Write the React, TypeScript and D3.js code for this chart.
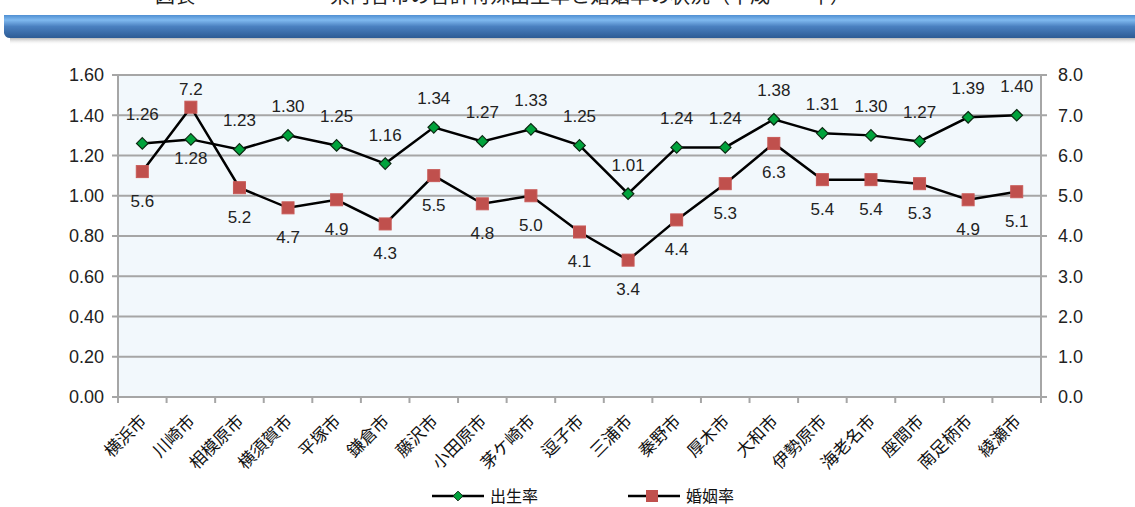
import React from "react";
import * as d3 from "d3";

const cities = ["横浜市", "川崎市", "相模原市", "横須賀市", "平塚市", "鎌倉市", "藤沢市", "小田原市", "茅ケ崎市", "逗子市", "三浦市", "秦野市", "厚木市", "大和市", "伊勢原市", "海老名市", "座間市", "南足柄市", "綾瀬市"];
const birthRate = [1.26, 1.28, 1.23, 1.30, 1.25, 1.16, 1.34, 1.27, 1.33, 1.25, 1.01, 1.24, 1.24, 1.38, 1.31, 1.30, 1.27, 1.39, 1.40];
const marriageRate = [5.6, 7.2, 5.2, 4.7, 4.9, 4.3, 5.5, 4.8, 5.0, 4.1, 3.4, 4.4, 5.3, 6.3, 5.4, 5.4, 5.3, 4.9, 5.1];
const leftTicks = [0, 0.2, 0.4, 0.6, 0.8, 1.0, 1.2, 1.4, 1.6];
const rightTicks = [0, 1, 2, 3, 4, 5, 6, 7, 8];

const W = 1135, H = 507;
const m = { left: 118, right: 1041, top: 75, bottom: 397 };
const num = "'Liberation Sans', Arial, sans-serif";
const cjk = "'Noto Sans CJK JP', sans-serif";

export default function App() {
  const x = d3.scaleBand().domain(cities).range([m.left, m.right]);
  const yL = d3.scaleLinear().domain([0, 1.6]).range([m.bottom, m.top]);
  const yR = d3.scaleLinear().domain([0, 8]).range([m.bottom, m.top]);
  const cx = (c: string) => (x(c) as number) + x.bandwidth() / 2;

  const birthLine = d3.line<number>().x((_, i) => cx(cities[i])).y(d => yL(d));
  const marrLine = d3.line<number>().x((_, i) => cx(cities[i])).y(d => yR(d));
  const diamond = d3.symbol().type(d3.symbolDiamond2).size(85)();

  return (
    <svg width={W} height={H} style={{ position: "absolute", left: 0, top: 0 }}>
      <defs>
        <linearGradient id="band" x1="0" y1="0" x2="0" y2="1">
          <stop offset="0" stopColor="#4f8fd2" />
          <stop offset="0.22" stopColor="#7fb9ef" />
          <stop offset="0.5" stopColor="#4a80c0" />
          <stop offset="1" stopColor="#2d5b94" />
        </linearGradient>
        <linearGradient id="shadow" x1="0" y1="0" x2="0" y2="1">
          <stop offset="0" stopColor="#9a9a9a" stopOpacity="0.7" />
          <stop offset="1" stopColor="#ffffff" stopOpacity="0" />
        </linearGradient>
      </defs>
      <rect width={W} height={H} fill="#fff" />

      {/* title, mostly cut off at the top as in the source */}
      <text x={155} y={3} fontFamily={cjk} fontSize={20} fill="#222">図表</text>
      <text x={330} y={3} fontFamily={cjk} fontSize={20} fill="#222">県内各市の合計特殊出生率と婚姻率の状況（平成　　年）</text>

      {/* banner */}
      <rect x={10} y={38} width={W - 10} height={7} fill="url(#shadow)" />
      <path d={`M4,15 L${W},15 L${W},38 L10,38 Q5,38 4,33 Z`} fill="url(#band)" />

      {/* plot area */}
      <rect x={m.left} y={m.top} width={m.right - m.left} height={m.bottom - m.top} fill="#f2f8fc" />
      {leftTicks.map(t => (
        <g key={t}>
          <line x1={m.left - 6} x2={m.right + 6} y1={yL(t)} y2={yL(t)} stroke="#a6a6a6" strokeWidth={2} />
          <text x={104} y={yL(t)} dy="0.35em" textAnchor="end" fontFamily={num} fontSize={18} fill="#222">{t.toFixed(2)}</text>
        </g>
      ))}
      {rightTicks.map(t => (
        <text key={t} x={1058} y={yR(t)} dy="0.35em" fontFamily={num} fontSize={18} fill="#222">{t.toFixed(1)}</text>
      ))}
      <line x1={m.left} x2={m.left} y1={m.top} y2={m.bottom} stroke="#a6a6a6" strokeWidth={2} />
      <line x1={m.right} x2={m.right} y1={m.top} y2={m.bottom} stroke="#a6a6a6" strokeWidth={2} />
      {cities.map((c, i) => (
        <line key={i} x1={x(c) as number} x2={x(c) as number} y1={m.bottom} y2={m.bottom + 6} stroke="#a6a6a6" strokeWidth={2} />
      ))}
      <line x1={m.right} x2={m.right} y1={m.bottom} y2={m.bottom + 6} stroke="#a6a6a6" strokeWidth={2} />

      {/* x labels */}
      {cities.map(c => (
        <text key={c} transform={`translate(${cx(c) + 1},${m.bottom + 21}) rotate(-45)`} textAnchor="end" dy="0.35em"
          fontFamily={cjk} fontSize={17} fill="#111">{c}</text>
      ))}

      {/* lines */}
      <path d={marrLine(marriageRate) as string} fill="none" stroke="#000" strokeWidth={2.5} />
      <path d={birthLine(birthRate) as string} fill="none" stroke="#000" strokeWidth={2.5} />

      {marriageRate.map((v, i) => (
        <rect key={i} x={cx(cities[i]) - 6} y={yR(v) - 6} width={12} height={12} fill="#c0504d" stroke="#c85a57" strokeWidth={1} />
      ))}
      {birthRate.map((v, i) => (
        <path key={i} d={diamond as string} transform={`translate(${cx(cities[i])},${yL(v)})`} fill="#00a33c" stroke="#0b2a12" strokeWidth={1.2} />
      ))}

      {/* data labels */}
      {birthRate.map((v, i) => {
        const off = i === 1 ? 19 : -29;
        return (
          <text key={i} x={cx(cities[i])} y={yL(v) + off} dy="0.35em" textAnchor="middle"
            fontFamily={num} fontSize={17} fill="#222">{v.toFixed(2)}</text>
        );
      })}
      {marriageRate.map((v, i) => {
        const off = i === 1 ? -18 : 29;
        return (
          <text key={i} x={cx(cities[i])} y={yR(v) + off} dy="0.35em" textAnchor="middle"
            fontFamily={num} fontSize={17} fill="#222">{v.toFixed(1)}</text>
        );
      })}

      {/* legend */}
      <line x1={432} x2={484} y1={496} y2={496} stroke="#000" strokeWidth={2.5} />
      <path d={d3.symbol().type(d3.symbolDiamond2).size(60)() as string} transform="translate(458,496)" fill="#00a33c" stroke="#0b2a12" strokeWidth={1} />
      <text x={490} y={496} dy="0.35em" fontFamily={cjk} fontSize={16} fill="#111">出生率</text>
      <line x1={628} x2={680} y1={496} y2={496} stroke="#000" strokeWidth={2.5} />
      <rect x={646} y={490} width={12} height={12} fill="#c0504d" />
      <text x={686} y={496} dy="0.35em" fontFamily={cjk} fontSize={16} fill="#111">婚姻率</text>
    </svg>
  );
}
